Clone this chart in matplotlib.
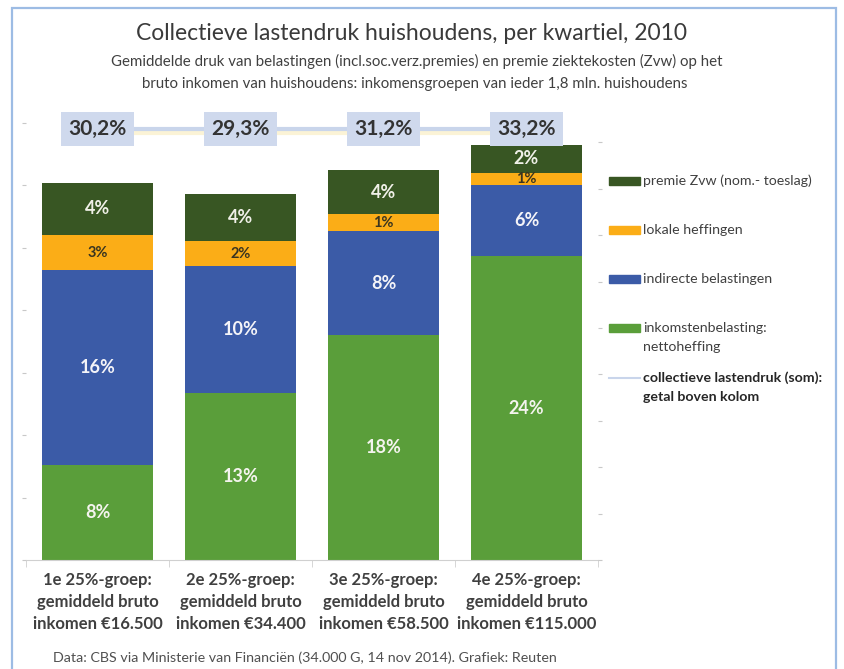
import numpy as np
import matplotlib
matplotlib.use("Agg")
import matplotlib.pyplot as plt
from matplotlib.patches import Rectangle
from matplotlib.lines import Line2D

plt.rcParams['font.family'] = ['Lato', 'DejaVu Sans']

# data (percent of gross household income)
groups = ["1e 25%-groep:\ngemiddeld bruto\ninkomen €16.500",
          "2e 25%-groep:\ngemiddeld bruto\ninkomen €34.400",
          "3e 25%-groep:\ngemiddeld bruto\ninkomen €58.500",
          "4e 25%-groep:\ngemiddeld bruto\ninkomen €115.000"]
inkomstenbelasting = [7.6, 13.4, 18.0, 24.3]
indirecte = [15.6, 10.1, 8.3, 5.7]
lokale = [2.8, 2.0, 1.4, 1.0]
premie_zvw = [4.2, 3.8, 3.5, 2.2]
totals = [30.2, 29.3, 31.2, 33.2]

series = [
    (inkomstenbelasting, "#5a9e3a", "#f4f4ee", 13),
    (indirecte, "#3b5ba7", "#f4f4f8", 13),
    (lokale, "#fbad17", "#3a3520", 10.5),
    (premie_zvw, "#385623", "#f0f0e8", 13),
]

W, H = 845, 669
fig = plt.figure(figsize=(W / 100, H / 100), dpi=100)

def fx(px):
    return px / W

def fy(py):
    return 1 - py / H

# frame round the whole picture
fig.patches.append(Rectangle((fx(12), fy(700)), fx(836 - 12), fy(8) - fy(700),
                             transform=fig.transFigure, fill=False,
                             ec="#9dbce4", lw=1.6))

fig.text(fx(412), fy(34), "Collectieve lastendruk huishoudens, per kwartiel, 2010",
         ha="center", va="center", fontsize=16.5, color="#3a3a3a")
fig.text(fx(417), fy(61), "Gemiddelde druk van belastingen (incl.soc.verz.premies) en premie ziektekosten (Zvw) op het",
         ha="center", va="center", fontsize=10.8, color="#404040")
fig.text(fx(415), fy(84), "bruto inkomen van huishoudens: inkomensgroepen van ieder 1,8 mln. huishoudens",
         ha="center", va="center", fontsize=10.8, color="#404040")
fig.text(fx(53), fy(658), "Data: CBS via Ministerie van Financiën (34.000 G, 14 nov 2014). Grafiek: Reuten",
         ha="left", va="center", fontsize=10.3, color="#505050")

ax = fig.add_axes([fx(26), fy(560), fx(598 - 26), fy(104) - fy(560)])
x = np.arange(len(groups))
bottom = np.zeros(len(groups))
for vals, col, tcol, fs in series:
    ax.bar(x, vals, width=0.776, bottom=bottom, color=col, zorder=2)
    for xi, b, v in zip(x, bottom, vals):
        ax.text(xi, b + v / 2, f"{int(v + 0.5)}%", ha="center", va="center",
                fontsize=fs, fontweight="bold", color=tcol, zorder=3)
    bottom += np.array(vals)

# line of the sum, drawn at a fixed height above the columns
LINE_LEVEL = 34.5
ax.plot(x, [LINE_LEVEL] * len(x), color="#c9d5eb", lw=3, zorder=1, clip_on=False)
ax.plot(x, [LINE_LEVEL - 0.35] * len(x), color="#fbf3d6", lw=3, zorder=0.9, clip_on=False)
for xi, t in zip(x, totals):
    ax.text(xi, LINE_LEVEL, f"{t:.1f}%".replace(".", ","), ha="center", va="center",
            fontsize=15, fontweight="bold", color="#333333", zorder=4, clip_on=False,
            bbox=dict(boxstyle="square,pad=0.34", fc="#cfd9ed", ec="none"))

ax.set_xlim(-0.5, 3.5)
ax.set_ylim(0, 36.5)
for s in ["left", "right", "top"]:
    ax.spines[s].set_visible(False)
ax.spines["bottom"].set_color("#d0d0d0")
ax.set_yticks(np.arange(0, 36, 5))
ax.tick_params(axis="y", length=3, color="#c8c8c8", labelleft=False)
ax.set_xticks(x)
ax.set_xticklabels(groups, fontsize=12, fontweight="bold", color="#404040", linespacing=1.45)
ax.set_xticks(np.arange(-0.5, 4, 1), minor=True)
ax.tick_params(axis="x", which="major", length=0, pad=9)
ax.tick_params(axis="x", which="minor", length=5, color="#d0d0d0")

ax2 = ax.twinx()
ax2.set_ylim(0, 456 / 46.4)
ax2.set_yticks(range(10))
ax2.tick_params(axis="y", length=3, color="#c8c8c8", labelright=False)
for s in ax2.spines.values():
    s.set_visible(False)

# legend
legend_items = [
    ("#385623", "premie Zvw (nom.- toeslag)", 181),
    ("#fbad17", "lokale heffingen", 230),
    ("#3b5ba7", "indirecte belastingen", 279),
    ("#5a9e3a", "inkomstenbelasting:\nnettoheffing", 328),
]
for col, label, py in legend_items:
    fig.patches.append(Rectangle((fx(609), fy(py + 4)), fx(31), fy(py - 4) - fy(py + 4),
                                 transform=fig.transFigure, color=col))
    lines = label.split("\n")
    for i, ln in enumerate(lines):
        fig.text(fx(643), fy(py + 19 * i), ln, ha="left", va="center",
                 fontsize=10.2, color="#404040")
fig.lines.append(Line2D([fx(609), fx(640)], [fy(378), fy(378)], transform=fig.transFigure,
                        color="#c9d5eb", lw=1.5))
fig.text(fx(643), fy(378), "collectieve lastendruk (som):", ha="left", va="center",
         fontsize=10.2, fontweight="bold", color="#262626")
fig.text(fx(643), fy(397), "getal boven kolom", ha="left", va="center",
         fontsize=10.2, fontweight="bold", color="#262626")

fig.savefig("out.png", dpi=100)
